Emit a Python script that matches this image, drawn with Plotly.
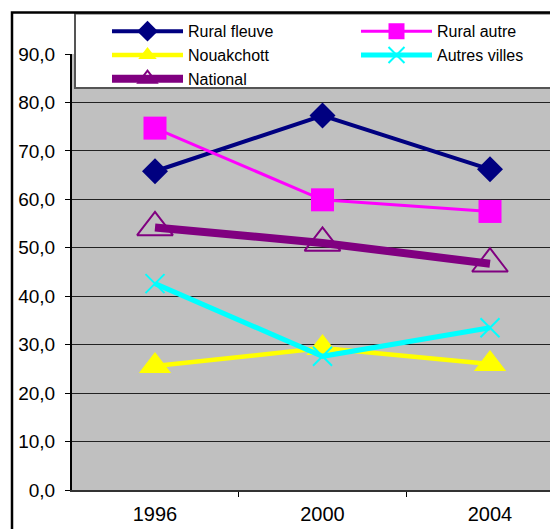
import plotly.graph_objects as go

# ---- data ----
years = ["1996", "2000", "2004"]
rural_fleuve = [65.8, 77.3, 66.2]
rural_autre = [74.7, 59.9, 57.5]
nouakchott = [25.6, 29.3, 26.0]
autres_villes = [42.6, 27.6, 33.5]
national = [54.2, 51.0, 46.7]
y_ticks = [0, 10, 20, 30, 40, 50, 60, 70, 80, 90]

# ---- geometry (page has an 8px body offset) ----
OFF = 8
W, H = 558, 529
ML, MR, MT, MB = 72 - OFF, 0, 53.5 - OFF, 529 - (490 - OFF)
PW = W - ML - MR
PH = H - MT - MB


def px(x):
    """screen x -> paper fraction"""
    return (x - OFF - ML) / PW


def py(y):
    """screen y -> paper fraction"""
    return (H - MB - (y - OFF)) / PH


# category positions: first category at screen x=155, spacing 167.5
X_LEFT = (72 - 155) / 167.5
X_RIGHT = (W + OFF - 155) / 167.5

FONT = "Liberation Sans, Arial, sans-serif"

fig = go.Figure()

fig.add_trace(go.Scatter(
    x=years, y=rural_fleuve, name="Rural fleuve", mode="lines+markers",
    line=dict(color="#000080", width=4),
    marker=dict(symbol="diamond", size=20, color="#000080"),
))
fig.add_trace(go.Scatter(
    x=years, y=rural_autre, name="Rural autre", mode="lines+markers",
    line=dict(color="#FF00FF", width=3),
    marker=dict(symbol="square", size=23, color="#FF00FF"),
))
fig.add_trace(go.Scatter(
    x=years, y=nouakchott, name="Nouakchott", mode="lines+markers",
    line=dict(color="#FFFF00", width=4.5),
    marker=dict(symbol="triangle-up", size=28, color="#FFFF00"),
))
fig.add_trace(go.Scatter(
    x=years, y=autres_villes, name="Autres villes", mode="lines+markers",
    line=dict(color="#00FFFF", width=5),
    marker=dict(symbol="x-thin", size=19, color="#00FFFF",
                line=dict(color="#00FFFF", width=2)),
))
fig.add_trace(go.Scatter(
    x=years, y=national, name="National", mode="lines+markers",
    line=dict(color="#800080", width=8),
    marker=dict(symbol="triangle-up-open", size=31, color="#800080",
                line=dict(color="#800080", width=2)),
))

shapes = [
    # legend box
    dict(type="rect", xref="paper", yref="paper", layer="above",
         x0=px(75), x1=px(620), y0=py(87.5), y1=py(13),
         fillcolor="white", line=dict(color="#555555", width=2)),
    # outer chart frame
    dict(type="rect", xref="paper", yref="paper", layer="above",
         x0=px(12), x1=px(640), y0=py(640), y1=py(12),
         fillcolor="rgba(0,0,0,0)", line=dict(color="black", width=2.5)),
]

fig.update_layout(
    width=W, height=H,
    margin=dict(l=ML, r=MR, t=MT, b=MB, autoexpand=False),
    paper_bgcolor="white",
    plot_bgcolor="#C0C0C0",
    separators=", ",
    font=dict(family=FONT, color="black"),
    shapes=shapes,
    legend=dict(
        orientation="h",
        x=px(107), y=py(13.7), xanchor="left", yanchor="top",
        bgcolor="rgba(0,0,0,0)", borderwidth=0,
        font=dict(family=FONT, size=16, color="black"),
        itemwidth=71,
        entrywidth=163,
        traceorder="normal",
    ),
    xaxis=dict(
        type="category", range=[X_LEFT, X_RIGHT],
        tickson="boundaries", ticks="outside", ticklen=5,
        tickcolor="black", tickwidth=1, ticklabelstandoff=5,
        showline=True, linecolor="#333333", linewidth=2,
        showgrid=False, zeroline=False,
        tickfont=dict(family=FONT, size=20, color="black"),
    ),
    yaxis=dict(
        range=[0, 90], tickvals=y_ticks, tickformat=".1f",
        ticks="outside", ticklen=5, tickcolor="black", tickwidth=1,
        ticklabelstandoff=6,
        showline=True, linecolor="black", linewidth=2,
        showgrid=True, gridcolor="#222222", gridwidth=1,
        zeroline=False,
        tickfont=dict(family=FONT, size=19, color="black"),
    ),
)

fig.write_html("out.html")
